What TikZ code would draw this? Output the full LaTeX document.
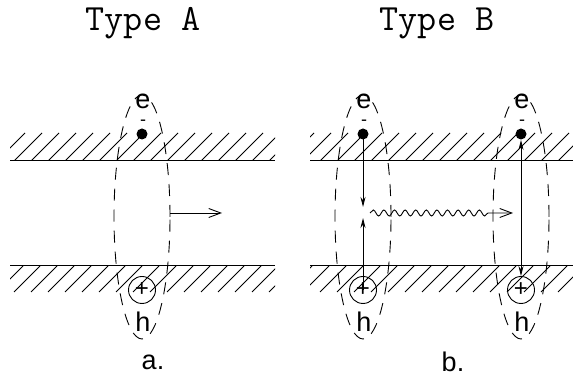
\documentclass[tikz,border=0pt]{standalone}
\usepackage{fontspec}
\setmainfont{Liberation Sans}
\usepackage{tikz}
\usetikzlibrary{arrows.meta,positioning,shapes.geometric,decorations.pathmorphing}

\newcommand{\elabel}{e\\[-13pt]{\fontsize{18}{20}\selectfont -}}

\begin{document}
\begin{tikzpicture}[
  x=1pt,y=1pt,
  line width=0.9pt,
  title/.style={font=\ttfamily\fontsize{37}{40}\selectfont,inner sep=0pt},
  lbl/.style={font=\fontsize{27}{30}\selectfont,inner sep=0pt},
  elbl/.style={lbl,align=center,anchor=north},
  elec/.style={circle,fill=black,minimum size=11pt,inner sep=0pt},
  hole/.style={circle,draw,minimum size=27pt,inner sep=0pt,font=\fontsize{24}{24}\selectfont},
  exciton/.style={ellipse,draw,dash pattern=on 12pt off 9pt,minimum width=56pt,minimum height=244pt},
  flow/.style={-{Straight Barb[length=12pt,width=9pt]}},
  vec/.style={-{Stealth[length=10pt,width=5pt]}},
  band/.style={line width=1pt}
]
\useasboundingbox (0,0) rectangle (573,379);

% hatched bands
\foreach \xa/\xb in {10/275,310/573}{
  \begin{scope}
    \clip (\xa,218) rectangle (\xb,247);
    \foreach \x in {-20,-3,...,580}
      \draw[band] (\x,218) -- ++(28,28);
  \end{scope}
  \draw[band] (\xa,218) -- (\xb,218);
  \begin{scope}
    \clip (\xa,86) rectangle (\xb,113);
    \foreach \x in {-20,-3,...,580}
      \draw[band] (\x,87) -- ++(26,26);
  \end{scope}
  \draw[band] (\xa,113) -- (\xb,113);
}

% titles
\node[title] (tA) at (143,356) {Type A};
\node[title] (tB) at (437,356) {Type B};

% a. mobile exciton
\node[exciton] (xA) at (142,162) {};
\node[elec] (eA) at (142,245) {};
\node[elbl] (lA) at (143,285) {\elabel};
\node[hole] (hA) at (142,89) {+};
\node[lbl] (kA) at (143,57) {h};
\coordinate (gA) at (222,166);
\draw[flow] (xA.east |- gA) -- (gA);
\node[lbl] (capA) at (153,17) {a.};

% b. transfer between excitons
\node[exciton] (xB1) at (363,162) {};
\node[exciton] (xB2) at (521,162) {};
\node[elec] (eB1) at (363,245) {};
\node[elec] (eB2) at (521,245) {};
\node[elbl] (lB1) at (364,285) {\elabel};
\node[elbl] (lB2) at (522,285) {\elabel};
\node[hole] (hB1) at (363,89) {+};
\node[hole] (hB2) at (521,89) {+};
\node[lbl] (kB1) at (364,57) {h};
\node[lbl] (kB2) at (522,57) {h};
\coordinate (dB) at (363,172);
\coordinate (uB) at (363,161);
\draw[vec] (eB1.center) -- (dB);
\draw[vec] (hB1.center) -- (uB);
\coordinate (sB) at (370,166);
\coordinate (gB) at (513,166);
\draw[flow,decorate,decoration={snake,amplitude=3pt,segment length=10.6pt,post length=24pt}] (sB) -- (gB);
\draw[{Stealth[length=10pt,width=5pt]}-{Stealth[length=10pt,width=5pt]}] (eB2) -- (hB2);
\node[lbl] (capB) at (453,17) {b.};
\end{tikzpicture}
\end{document}
